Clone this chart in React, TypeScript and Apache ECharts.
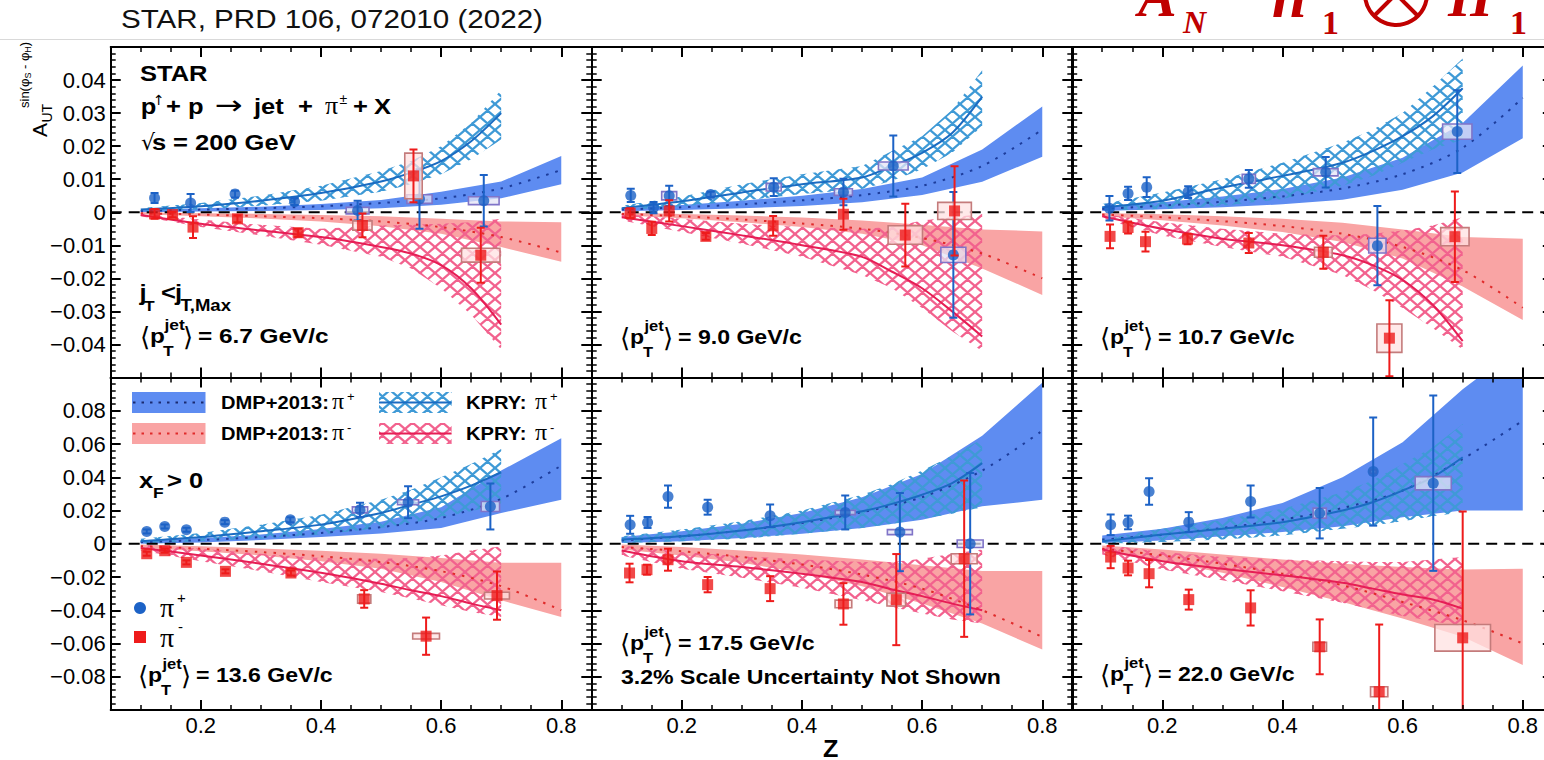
import { useEffect, useRef } from 'react';
import * as echarts from 'echarts';

const SANS = '"Liberation Sans", Arial, Helvetica, sans-serif';
const SERIF = '"Liberation Serif", "Times New Roman", serif';
const SYM = '"DejaVu Sans", sans-serif';

// Theory curves are tabulated at these z values
const Z_KPRY = [0.1, 0.2, 0.3, 0.4, 0.5, 0.55, 0.6, 0.65, 0.7];
const Z_DMP = [0.1, 0.2, 0.3, 0.4, 0.5, 0.6, 0.7, 0.8];
const Z_MAJOR = [0.2, 0.4, 0.6, 0.8];

// Measured points: [z, A_UT, stat. error, sys. half-width in z, sys. error]
const piPlus67 = [
  [0.123, 0.0043, 0.0015, 0, 0], [0.183, 0.0028, 0.0027, 0, 0], [0.257, 0.0055, 0.001, 0, 0],
  [0.356, 0.0032, 0.001, 0, 0], [0.461, 0.0005, 0.003, 0.019, 0.001], [0.564, 0.004, 0.009, 0.021, 0.0013],
  [0.671, 0.0035, 0.0078, 0.0255, 0.0012],
];
const piMinus67 = [
  [0.123, -0.0005, 0.0015, 0, 0], [0.153, -0.0007, 0.0008, 0, 0], [0.187, -0.0045, 0.0033, 0, 0],
  [0.261, -0.002, 0.001, 0, 0], [0.362, -0.0062, 0.0012, 0, 0], [0.469, -0.004, 0.0036, 0.016, 0.0014],
  [0.554, 0.011, 0.008, 0.0145, 0.0069], [0.666, -0.013, 0.0083, 0.032, 0.0021],
];
const piPlus90 = [
  [0.115, 0.0051, 0.002, 0, 0], [0.153, 0.0014, 0.0017, 0, 0], [0.179, 0.005, 0.003, 0.0125, 0.00125],
  [0.248, 0.0054, 0.0008, 0, 0], [0.353, 0.0076, 0.0027, 0.0125, 0.00115], [0.469, 0.0061, 0.004, 0.015, 0.001],
  [0.552, 0.014, 0.0092, 0.0247, 0.0012], [0.652, -0.0129, 0.019, 0.0208, 0.0023],
];
const piMinus90 = [
  [0.114, -0.0003, 0.0015, 0, 0], [0.15, -0.0049, 0.002, 0, 0], [0.179, 0.0004, 0.0032, 0, 0],
  [0.24, -0.0073, 0.001, 0, 0], [0.352, -0.0041, 0.003, 0, 0], [0.469, -0.0006, 0.0047, 0, 0],
  [0.572, -0.0069, 0.0095, 0.0286, 0.0028], [0.654, 0.0004, 0.0135, 0.028, 0.0026],
];
const piPlus107 = [
  [0.112, 0.0012, 0.0037, 0, 0], [0.143, 0.0057, 0.002, 0, 0], [0.174, 0.0076, 0.003, 0, 0],
  [0.243, 0.0061, 0.0018, 0, 0], [0.344, 0.0101, 0.0027, 0.011, 0.00135], [0.472, 0.0121, 0.0046, 0.0205, 0.0011],
  [0.558, -0.0101, 0.012, 0.0144, 0.00225], [0.691, 0.0244, 0.0125, 0.0244, 0.0023],
];
const piMinus107 = [
  [0.113, -0.0073, 0.0036, 0, 0], [0.143, -0.0046, 0.0018, 0, 0], [0.172, -0.0089, 0.003, 0, 0],
  [0.242, -0.0081, 0.0016, 0, 0], [0.344, -0.0093, 0.003, 0, 0], [0.468, -0.0121, 0.005, 0.0147, 0.0015],
  [0.578, -0.0381, 0.0115, 0.0208, 0.0043], [0.687, -0.0074, 0.0137, 0.0236, 0.00275],
];
const piPlus136 = [
  [0.11, 0.0074, 0.0012, 0, 0], [0.14, 0.0104, 0.0012, 0, 0], [0.176, 0.0084, 0.0012, 0, 0],
  [0.24, 0.013, 0.0012, 0, 0], [0.349, 0.0144, 0.0015, 0, 0], [0.465, 0.0204, 0.0042, 0.0127, 0.0018],
  [0.545, 0.025, 0.0096, 0.0175, 0.0015], [0.682, 0.0224, 0.0138, 0.0153, 0.003],
];
const piMinus136 = [
  [0.11, -0.006, 0.0012, 0, 0], [0.14, -0.0042, 0.0012, 0, 0], [0.176, -0.0112, 0.0012, 0, 0],
  [0.241, -0.0166, 0.0012, 0, 0], [0.35, -0.0176, 0.0015, 0, 0], [0.472, -0.0332, 0.0053, 0.011, 0.0025],
  [0.575, -0.0556, 0.0112, 0.0223, 0.0017], [0.693, -0.0312, 0.0145, 0.0207, 0.002],
];
const piPlus175 = [
  [0.114, 0.0114, 0.0054, 0, 0], [0.143, 0.0128, 0.0033, 0, 0], [0.177, 0.0284, 0.0067, 0, 0],
  [0.243, 0.022, 0.0045, 0, 0], [0.347, 0.0168, 0.0068, 0, 0], [0.472, 0.0188, 0.0102, 0.0166, 0.0013],
  [0.563, 0.007, 0.0235, 0.0208, 0.0015], [0.68, 0.0, 0.0425, 0.0216, 0.0023],
];
const piMinus175 = [
  [0.113, -0.0176, 0.0056, 0, 0], [0.142, -0.0156, 0.003, 0, 0], [0.177, -0.0096, 0.0066, 0, 0],
  [0.243, -0.0246, 0.0046, 0, 0], [0.347, -0.027, 0.0075, 0, 0], [0.469, -0.0362, 0.0125, 0.0139, 0.0023],
  [0.557, -0.0336, 0.0274, 0.0155, 0.0038], [0.67, -0.009, 0.047, 0.0216, 0.003],
];
const piPlus220 = [
  [0.114, 0.0114, 0.0062, 0, 0], [0.143, 0.0128, 0.0041, 0, 0], [0.178, 0.0314, 0.008, 0, 0],
  [0.244, 0.013, 0.006, 0, 0], [0.347, 0.0254, 0.0096, 0, 0], [0.462, 0.0184, 0.0152, 0.011, 0.003],
  [0.551, 0.0434, 0.0325, 0.005, 0.001], [0.651, 0.0364, 0.0527, 0.03, 0.004],
];
const piMinus220 = [
  [0.114, -0.008, 0.0067, 0, 0], [0.143, -0.0146, 0.0044, 0, 0], [0.178, -0.018, 0.0082, 0, 0],
  [0.244, -0.0336, 0.006, 0, 0], [0.347, -0.0386, 0.0106, 0, 0], [0.462, -0.062, 0.0165, 0.0114, 0.0027],
  [0.561, -0.089, 0.0404, 0.0144, 0.003], [0.7, -0.0566, 0.076, 0.0463, 0.008],
];

// Theory: [central, lower, upper] at Z_DMP / Z_KPRY
const dmpPlus67 = [[0.0004, 0, 0.0007], [0.0008, 0.0002, 0.0012], [0.0012, 0.0004, 0.0017], [0.0018, 0.0007, 0.0025], [0.0028, 0.0012, 0.0037], [0.0042, 0.0023, 0.0062], [0.0072, 0.0042, 0.0093], [0.0128, 0.0085, 0.017]];
const dmpMinus67 = [[-0.0003, -0.0006, 0], [-0.0007, -0.0012, -0.0003], [-0.0012, -0.0019, -0.0005], [-0.0018, -0.0028, -0.0008], [-0.0028, -0.0042, -0.0012], [-0.0045, -0.0065, -0.002], [-0.0075, -0.0105, -0.0028], [-0.0122, -0.015, -0.003]];
const kpryPlus67 = [[0.0008, 0.0003, 0.0013], [0.0018, 0.0008, 0.0028], [0.0035, 0.002, 0.005], [0.0058, 0.0035, 0.008], [0.0093, 0.0062, 0.0125], [0.012, 0.0085, 0.0155], [0.0155, 0.0115, 0.02], [0.0215, 0.016, 0.027], [0.03, 0.022, 0.037]];
const kpryMinus67 = [[-0.0008, -0.0012, -0.0004], [-0.0035, -0.0045, -0.0022], [-0.0055, -0.007, -0.0038], [-0.0075, -0.0098, -0.005], [-0.0105, -0.0135, -0.004], [-0.0125, -0.017, -0.0038], [-0.016, -0.023, -0.0035], [-0.023, -0.031, -0.003], [-0.034, -0.0415, -0.002]];

const dmpPlus90 = [[0.0008, 0.0003, 0.0013], [0.0015, 0.0007, 0.0022], [0.0024, 0.0012, 0.0035], [0.0036, 0.0019, 0.005], [0.0052, 0.003, 0.007], [0.008, 0.0052, 0.0105], [0.014, 0.0092, 0.019], [0.025, 0.0168, 0.032]];
const dmpMinus90 = [[-0.0005, -0.0009, -0.0001], [-0.0012, -0.0018, -0.0005], [-0.0022, -0.003, -0.001], [-0.0034, -0.0045, -0.0016], [-0.005, -0.0065, -0.0025], [-0.0078, -0.01, -0.0038], [-0.0125, -0.017, -0.0052], [-0.02, -0.025, -0.0058]];
const kpryPlus90 = [[0.0012, 0.0005, 0.002], [0.0033, 0.0018, 0.0048], [0.006, 0.0035, 0.0085], [0.0085, 0.0055, 0.0115], [0.0105, 0.007, 0.014], [0.014, 0.0095, 0.0185], [0.018, 0.013, 0.023], [0.024, 0.018, 0.031], [0.035, 0.026, 0.043]];
const kpryMinus90 = [[-0.0015, -0.0025, -0.0005], [-0.0042, -0.006, -0.002], [-0.007, -0.0095, -0.0035], [-0.01, -0.0135, -0.0045], [-0.0135, -0.019, -0.005], [-0.018, -0.023, -0.0045], [-0.023, -0.029, -0.0025], [-0.03, -0.036, -0.0015], [-0.0376, -0.042, -0.0005]];

const dmpPlus107 = [[0.001, 0.0004, 0.0016], [0.002, 0.0009, 0.003], [0.0032, 0.0015, 0.0048], [0.0048, 0.0024, 0.007], [0.0072, 0.0038, 0.0105], [0.0115, 0.0068, 0.0165], [0.0195, 0.012, 0.027], [0.0346, 0.0224, 0.0444]];
const dmpMinus107 = [[-0.0007, -0.0012, -0.0002], [-0.0015, -0.0024, -0.0006], [-0.0027, -0.004, -0.0012], [-0.0042, -0.006, -0.002], [-0.0065, -0.009, -0.0032], [-0.0105, -0.014, -0.0052], [-0.0175, -0.0225, -0.0075], [-0.0289, -0.0326, -0.008]];
const kpryPlus107 = [[0.0015, 0.0005, 0.0025], [0.0035, 0.001, 0.006], [0.0075, 0.002, 0.01], [0.011, 0.004, 0.015], [0.015, 0.008, 0.021], [0.0185, 0.011, 0.025], [0.023, 0.015, 0.03], [0.029, 0.019, 0.038], [0.0375, 0.022, 0.0465]];
const kpryMinus107 = [[-0.0012, -0.002, -0.0005], [-0.005, -0.007, -0.003], [-0.008, -0.0105, -0.005], [-0.01, -0.0135, -0.0065], [-0.013, -0.019, -0.007], [-0.016, -0.0235, -0.0065], [-0.0205, -0.029, -0.0055], [-0.028, -0.035, -0.004], [-0.039, -0.0415, -0.0015]];

const dmpPlus136 = [[0.001, 0, 0.002], [0.0022, 0.0008, 0.0035], [0.004, 0.0022, 0.0055], [0.0065, 0.004, 0.0088], [0.01, 0.0062, 0.0132], [0.0155, 0.0095, 0.022], [0.027, 0.0185, 0.044], [0.047, 0.0264, 0.0634]];
const dmpMinus136 = [[-0.0015, -0.0025, -0.0005], [-0.003, -0.0045, -0.0015], [-0.005, -0.007, -0.0028], [-0.0075, -0.0105, -0.0042], [-0.011, -0.015, -0.006], [-0.0165, -0.023, -0.0085], [-0.0255, -0.034, -0.0115], [-0.04, -0.044, -0.0115]];
const kpryPlus136 = [[0.0015, 0, 0.003], [0.004, 0.0015, 0.0065], [0.0075, 0.003, 0.0115], [0.0115, 0.0055, 0.0175], [0.0185, 0.0095, 0.0265], [0.0235, 0.0125, 0.0325], [0.0285, 0.016, 0.04], [0.035, 0.0195, 0.048], [0.043, 0.024, 0.057]];
const kpryMinus136 = [[-0.0025, -0.004, -0.0005], [-0.007, -0.0105, -0.003], [-0.012, -0.0165, -0.006], [-0.0175, -0.023, -0.0085], [-0.024, -0.029, -0.009], [-0.028, -0.033, -0.0085], [-0.0315, -0.037, -0.007], [-0.036, -0.041, -0.004], [-0.04, -0.044, -0.0015]];

const dmpPlus175 = [[0.002, 0.0005, 0.004], [0.0045, 0.0015, 0.0075], [0.008, 0.0035, 0.012], [0.0125, 0.006, 0.0185], [0.019, 0.0095, 0.028], [0.028, 0.0145, 0.042], [0.044, 0.0225, 0.065], [0.068, 0.0264, 0.0968]];
const dmpMinus175 = [[-0.002, -0.0035, -0.0005], [-0.0045, -0.007, -0.002], [-0.008, -0.0115, -0.004], [-0.0125, -0.0175, -0.0065], [-0.0185, -0.0255, -0.0095], [-0.027, -0.036, -0.013], [-0.04, -0.048, -0.0164], [-0.056, -0.0636, -0.0164]];
const kpryPlus175 = [[0.0025, 0.0005, 0.0045], [0.0045, 0.0015, 0.0085], [0.008, 0.003, 0.0135], [0.013, 0.006, 0.02], [0.0195, 0.0095, 0.0295], [0.024, 0.012, 0.036], [0.0295, 0.015, 0.044], [0.0365, 0.018, 0.053], [0.0485, 0.022, 0.063]];
const kpryMinus175 = [[-0.004, -0.007, -0.001], [-0.0105, -0.015, -0.005], [-0.014, -0.0205, -0.0075], [-0.018, -0.0265, -0.0095], [-0.023, -0.034, -0.011], [-0.0275, -0.038, -0.011], [-0.0315, -0.042, -0.009], [-0.036, -0.0455, -0.006], [-0.04, -0.048, -0.0035]];

const dmpPlus220 = [[0.0025, 0.0005, 0.005], [0.0055, 0.002, 0.009], [0.0095, 0.0045, 0.0155], [0.0145, 0.007, 0.0245], [0.0215, 0.0105, 0.04], [0.032, 0.016, 0.061], [0.051, 0.02, 0.093], [0.074, 0.02, 0.12]];
const dmpMinus220 = [[-0.003, -0.005, -0.001], [-0.007, -0.0105, -0.0035], [-0.012, -0.0175, -0.0065], [-0.018, -0.026, -0.0095], [-0.025, -0.035, -0.012], [-0.035, -0.045, -0.014], [-0.046, -0.056, -0.0155], [-0.06, -0.073, -0.015]];
const kpryPlus220 = [[0.0015, 0, 0.003], [0.0055, 0.001, 0.009], [0.009, 0.0025, 0.0145], [0.013, 0.005, 0.021], [0.02, 0.009, 0.031], [0.025, 0.011, 0.038], [0.032, 0.0135, 0.048], [0.04, 0.0165, 0.058], [0.052, 0.019, 0.072]];
const kpryMinus220 = [[-0.0035, -0.0065, -0.0005], [-0.0105, -0.0155, -0.005], [-0.015, -0.022, -0.008], [-0.019, -0.0285, -0.0095], [-0.0235, -0.0355, -0.0105], [-0.027, -0.0395, -0.011], [-0.0305, -0.0435, -0.011], [-0.0335, -0.0465, -0.0095], [-0.039, -0.05, -0.008]];

const PT_JET = ['6.7', '9.0', '10.7', '13.6', '17.5', '22.0'];

const PANELS = [
  { row: 0, col: 0, plus: piPlus67, minus: piMinus67, dmpP: dmpPlus67, dmpM: dmpMinus67, kP: kpryPlus67, kM: kpryMinus67 },
  { row: 0, col: 1, plus: piPlus90, minus: piMinus90, dmpP: dmpPlus90, dmpM: dmpMinus90, kP: kpryPlus90, kM: kpryMinus90 },
  { row: 0, col: 2, plus: piPlus107, minus: piMinus107, dmpP: dmpPlus107, dmpM: dmpMinus107, kP: kpryPlus107, kM: kpryMinus107 },
  { row: 1, col: 0, plus: piPlus136, minus: piMinus136, dmpP: dmpPlus136, dmpM: dmpMinus136, kP: kpryPlus136, kM: kpryMinus136 },
  { row: 1, col: 1, plus: piPlus175, minus: piMinus175, dmpP: dmpPlus175, dmpM: dmpMinus175, kP: kpryPlus175, kM: kpryMinus175 },
  { row: 1, col: 2, plus: piPlus220, minus: piMinus220, dmpP: dmpPlus220, dmpM: dmpMinus220, kP: kpryPlus220, kM: kpryMinus220 },
];

// Layout
const COL_X = [110.7, 591.7, 1072.2];
const ROWS = [
  { top: 47, height: 330.5, lim: 0.05, step: 0.01 },
  { top: 377.5, height: 332.5, lim: 0.1, step: 0.02 },
];
const PANEL_W = 480.6;

const COL = {
  dmpPlusFill: '#5e8cf1',
  dmpPlusLine: '#1d3d9c',
  dmpMinusFill: '#f9a4a4',
  dmpMinusLine: '#e02a2a',
  kpryPlusHatch: '#3f9ad6',
  kpryPlusLine: '#1b6cc2',
  kpryMinusHatch: '#f2628e',
  kpryMinusLine: '#e61e55',
  piPlus: '#1c62c6',
  piMinus: '#ee1b1b',
  sysPlusStroke: '#8074c8',
  sysPlusFill: 'rgba(228,228,246,0.75)',
  sysMinusStroke: '#c47b7b',
  sysMinusFill: 'rgba(255,226,226,0.75)',
  title: '#c00000',
};

let ctx2d: CanvasRenderingContext2D | null = null;
function measure(t: string, size: number, weight: string, fam: string, italic?: boolean) {
  if (!ctx2d) ctx2d = document.createElement('canvas').getContext('2d');
  ctx2d!.font = `${italic ? 'italic ' : ''}${weight} ${size}px ${fam}`;
  return ctx2d!.measureText(t).width;
}

type TOpt = { w?: string; fam?: string; color?: string; italic?: boolean; sx?: number };
function txt(x: number, base: number, text: string, size: number, o: TOpt = {}) {
  return {
    type: 'text',
    x,
    y: base - 0.345 * size,
    scaleX: o.sx ?? 1,
    silent: true,
    z: 100,
    style: {
      text,
      fontSize: size,
      fontWeight: o.w ?? 'bold',
      fontStyle: o.italic ? 'italic' : 'normal',
      fontFamily: o.fam ?? SANS,
      fill: o.color ?? '#000',
      align: 'left',
      verticalAlign: 'middle',
    },
  };
}

type Part = TOpt & { t: string; size: number; dy?: number };
function run(x0: number, base: number, parts: Part[]) {
  const out: any[] = [];
  let x = x0;
  for (const p of parts) {
    out.push(txt(x, base + (p.dy ?? 0), p.t, p.size, p));
    x += measure(p.t, p.size, p.w ?? 'bold', p.fam ?? SANS, p.italic) * (p.sx ?? 1);
  }
  return out;
}

// diagonal cross-hatch tile
function hatch(color: string) {
  const w = 15;
  const h = 13;
  const cv = document.createElement('canvas');
  cv.width = w;
  cv.height = h;
  const g = cv.getContext('2d')!;
  g.strokeStyle = color;
  g.lineWidth = 2.3;
  g.beginPath();
  for (const k of [-w, 0, w]) {
    g.moveTo(k, 0);
    g.lineTo(k + w, h);
    g.moveTo(k + w, 0);
    g.lineTo(k, h);
  }
  g.stroke();
  return { image: cv.toDataURL(), repeat: 'repeat', imageWidth: w, imageHeight: h };
}

// <p_T^jet> = value GeV/c
function ptLabel(x0: number, base: number, value: string, sx: number) {
  return [
    txt(x0, base + 3, '\u27E8', 26, { w: 'normal', fam: SYM }),
    txt(x0 + 10, base, 'p', 21, { sx }),
    txt(x0 + 23, base + 13, 'T', 15, { sx }),
    txt(x0 + 24.5, base - 13, 'jet', 15, { sx }),
    txt(x0 + 43, base + 3, '\u27E9', 26, { w: 'normal', fam: SYM }),
    txt(x0 + 58, base, `= ${value} GeV/c`, 21, { sx }),
  ];
}

function buildOption() {
  const grid: any[] = [];
  const xAxis: any[] = [];
  const yAxis: any[] = [];
  const series: any[] = [];

  PANELS.forEach((p, i) => {
    const r = ROWS[p.row];
    grid.push({ left: COL_X[p.col], top: r.top, width: PANEL_W, height: r.height, outerBoundsMode: 'none', containLabel: false });

    const xBase = { gridIndex: i, type: 'value', min: 0.05, max: 0.85, interval: 0.05, splitLine: { show: false }, z: 10 };
    const frame = { show: true, onZero: false, lineStyle: { color: '#000', width: 2 } };
    const minorX = { show: true, inside: true, length: 5, lineStyle: { color: '#000', width: 1.5 } };
    const majorX = { show: true, inside: true, length: 10, customValues: Z_MAJOR, lineStyle: { color: '#000', width: 2 } };
    xAxis.push(
      { ...xBase, position: 'bottom', axisLine: frame, axisTick: minorX, axisLabel: { show: false } },
      {
        ...xBase, position: 'bottom', axisLine: { show: false, onZero: false }, axisTick: majorX,
        axisLabel: {
          show: p.row === 1, customValues: Z_MAJOR, margin: 4, fontSize: 22, fontFamily: SANS, color: '#000',
          formatter: (v: number) => v.toFixed(1),
        },
      },
      { ...xBase, position: 'top', axisLine: frame, axisTick: minorX, axisLabel: { show: false } },
      { ...xBase, position: 'top', axisLine: { show: false, onZero: false }, axisTick: majorX, axisLabel: { show: false } },
    );

    const yBase = {
      gridIndex: i, type: 'value', min: -r.lim, max: r.lim, interval: r.step,
      axisLine: frame,
      axisTick: { show: true, inside: true, length: 10, lineStyle: { color: '#000', width: 2 } },
      minorTick: { show: true, splitNumber: 5, length: 5, lineStyle: { color: '#000', width: 1.5 } },
      splitLine: { show: false }, minorSplitLine: { show: false }, z: 10,
    };
    yAxis.push(
      {
        ...yBase, position: 'left',
        axisLabel: {
          show: p.col === 0, margin: 5, fontSize: 22, fontFamily: SANS, color: '#000',
          formatter: (v: number) => {
            if (Math.abs(Math.abs(v) - r.lim) < 1e-9) return '';
            if (Math.abs(v) < 1e-9) return '0';
            return (v < 0 ? '\u2212' : '') + Math.abs(v).toFixed(2);
          },
        },
      },
      { ...yBase, position: 'right', axisLabel: { show: false } },
    );

    const ax = { xAxisIndex: 4 * i, yAxisIndex: 2 * i, silent: true };

    // uncertainty band: one polygon from the upper edge and the reversed lower edge
    const band = (zs: number[], rows: number[][], fill: any, z: number) => ({
      ...ax, type: 'custom', clip: true, z, encode: { x: 0, y: [1, 2] },
      data: zs.map((x, k) => [x, rows[k][1], rows[k][2]]),
      renderItem: (params: any, api: any) => {
        if (params.dataIndex !== 0) return null;
        const up = zs.map((x, k) => api.coord([x, rows[k][2]]));
        const lo = zs.map((x, k) => api.coord([x, rows[k][1]])).reverse();
        return { type: 'polygon', shape: { points: up.concat(lo) }, style: { fill } };
      },
    });
    const centre = (zs: number[], rows: number[][], color: string, type: any, z: number) => ({
      ...ax, type: 'line', data: zs.map((x, k) => [x, rows[k][0]]), symbol: 'none', showSymbol: false,
      smooth: 0.3, lineStyle: { color, width: 2, type }, z,
    });

    series.push(
      band(Z_DMP, p.dmpP, COL.dmpPlusFill, 2),
      band(Z_DMP, p.dmpM, COL.dmpMinusFill, 2),
      band(Z_KPRY, p.kP, hatch(COL.kpryPlusHatch), 3),
      band(Z_KPRY, p.kM, hatch(COL.kpryMinusHatch), 3),
      centre(Z_DMP, p.dmpP, COL.dmpPlusLine, [2.5, 7], 4),
      centre(Z_DMP, p.dmpM, COL.dmpMinusLine, [2.5, 7], 4),
      centre(Z_KPRY, p.kP, COL.kpryPlusLine, 'solid', 4),
      centre(Z_KPRY, p.kM, COL.kpryMinusLine, 'solid', 4),
      {
        ...ax, type: 'line', data: [[0.05, 0], [0.85, 0]], symbol: 'none', showSymbol: false,
        lineStyle: { color: '#000', width: 2, type: [11, 7] }, z: 5,
      },
    );

    const points = (pts: number[][], color: string, stroke: string, fill: string, symbol: string, z: number) => [
      {
        ...ax, type: 'custom', clip: true, z, encode: { x: 0, y: 1 },
        data: pts.filter((q) => q[3] > 0).map((q) => [q[0], q[1], q[3], q[4]]),
        renderItem: (_: any, api: any) => {
          const x = api.value(0), y = api.value(1), sx = api.value(2), sy = api.value(3);
          const a = api.coord([x - sx, y + sy]);
          const b = api.coord([x + sx, y - sy]);
          return {
            type: 'rect',
            shape: { x: a[0], y: a[1], width: b[0] - a[0], height: b[1] - a[1] },
            style: { fill, stroke, lineWidth: 1.6 },
          };
        },
      },
      {
        ...ax, type: 'custom', clip: true, z, encode: { x: 0, y: 1 },
        data: pts.map((q) => [q[0], q[1], q[2]]),
        renderItem: (_: any, api: any) => {
          const x = api.value(0), y = api.value(1), e = api.value(2);
          const t = api.coord([x, y + e]);
          const b = api.coord([x, y - e]);
          const st = { stroke: color, lineWidth: 2 };
          return {
            type: 'group',
            children: [
              { type: 'line', shape: { x1: t[0], y1: t[1], x2: b[0], y2: b[1] }, style: st },
              { type: 'line', shape: { x1: t[0] - 4, y1: t[1], x2: t[0] + 4, y2: t[1] }, style: st },
              { type: 'line', shape: { x1: b[0] - 4, y1: b[1], x2: b[0] + 4, y2: b[1] }, style: st },
            ],
          };
        },
      },
      {
        ...ax, type: 'scatter', z, symbol, symbolSize: 11, itemStyle: { color },
        data: pts.map((q) => [q[0], q[1]]),
      },
    ];
    series.push(
      ...points(p.plus, COL.piPlus, COL.sysPlusStroke, COL.sysPlusFill, 'circle', 6),
      ...points(p.minus, COL.piMinus, COL.sysMinusStroke, COL.sysMinusFill, 'rect', 7),
    );
  });

  // ---- texts and decorations ----
  const S1 = 1.16; // top-left panel text stretch
  const S2 = 1.1;
  const els: any[] = [];

  els.push({ type: 'line', shape: { x1: 0, y1: 39.5, x2: 1544, y2: 39.5 }, style: { stroke: '#d9d9d9', lineWidth: 1 }, z: 100, silent: true });
  els.push(txt(121, 28, 'STAR, PRD 106, 072010 (2022)', 25.5, { w: 'normal', sx: 1.16, color: '#111' }));

  // A_N h_1 (x) H_1, its upper half runs off the top edge
  els.push(txt(1138, 17, 'A', 58, { fam: SERIF, italic: true, color: COL.title }));
  els.push(txt(1183, 33, 'N', 32, { fam: SERIF, italic: true, color: COL.title }));
  els.push(txt(1272, 17, 'h', 62, { fam: SERIF, italic: true, color: COL.title }));
  els.push(txt(1322, 34, '1', 34, { fam: SERIF, color: COL.title }));
  els.push({ type: 'circle', shape: { cx: 1396, cy: -6, r: 31 }, style: { fill: 'none', stroke: COL.title, lineWidth: 4 }, z: 100, silent: true });
  els.push({ type: 'line', shape: { x1: 1374, y1: 16, x2: 1418, y2: -28 }, style: { stroke: COL.title, lineWidth: 4 }, z: 100, silent: true });
  els.push({ type: 'line', shape: { x1: 1418, y1: 16, x2: 1374, y2: -28 }, style: { stroke: COL.title, lineWidth: 4 }, z: 100, silent: true });
  els.push(txt(1448, 17, 'H', 58, { fam: SERIF, italic: true, color: COL.title }));
  els.push(txt(1510, 34, '1', 34, { fam: SERIF, color: COL.title }));

  // y-axis title, reading upwards
  els.push({
    type: 'group', x: 46.5, y: 137, rotation: Math.PI / 2, silent: true, z: 100,
    children: [
      txt(0, 0, 'A', 21, { w: 'normal' }),
      txt(14.5, 5, 'UT', 14, { w: 'normal' }),
      ...run(29, -18, [
        { t: 'sin(\u03C6', size: 13, w: 'normal' },
        { t: 'S', size: 9, w: 'normal', dy: 3 },
        { t: ' - \u03C6', size: 13, w: 'normal' },
        { t: 'H', size: 9, w: 'normal', dy: 3 },
        { t: ')', size: 13, w: 'normal' },
      ]),
    ],
  });

  // top-left panel annotations
  els.push(txt(140, 81, 'STAR', 22, { sx: S1 }));
  els.push(txt(140.8, 114, 'p', 22, { sx: S1 }));
  els.push(txt(153, 105, '\u2191', 14, { w: 'normal', fam: SYM }));
  els.push(txt(166, 114, '+', 22, { sx: S1 }));
  els.push(txt(188, 114, 'p', 22, { sx: S1 }));
  els.push(txt(215, 114, '\u2192', 26, { w: 'normal', fam: SYM, sx: 1.28 }));
  els.push(txt(254, 114, 'jet', 22, { sx: S1 }));
  els.push(txt(298, 114, '+', 22, { sx: S1 }));
  els.push(txt(325, 114, '\u03C0', 26, { w: 'normal', fam: SERIF }));
  els.push(txt(339.5, 104, '\u00B1', 14, { w: 'normal' }));
  els.push(txt(353, 114, '+', 22, { sx: S1 }));
  els.push(txt(374, 114, 'X', 22, { sx: S1 }));
  els.push(txt(141, 150, '\u221A', 22, { w: 'normal', fam: SYM }));
  els.push(txt(152, 150, 's', 22, { sx: S1 }));
  els.push(txt(173, 150, '= 200 GeV', 22, { sx: S1 }));
  els.push(txt(139.5, 300, 'j', 22, { sx: S1 }));
  els.push(txt(144, 311, 'T', 15, { sx: S1 }));
  els.push(txt(161, 300, '<', 22, { sx: S1 }));
  els.push(txt(175, 300, 'j', 22, { sx: S1 }));
  els.push(txt(180.5, 311, 'T,Max', 16, { sx: S1 }));
  els.push(...ptLabel(140, 343, PT_JET[0], S1));
  els.push(...ptLabel(620, 344, PT_JET[1], S2));
  els.push(...ptLabel(1100, 344, PT_JET[2], S2));

  // bottom-left: legend, kinematic cut, markers
  const legendRow = (y: number, fill: string, dots: string, hcol: string, line: string, sign: string) => [
    { type: 'rect', shape: { x: 132, y, width: 73.5, height: 21 }, style: { fill }, z: 100, silent: true },
    { type: 'line', shape: { x1: 133, y1: y + 10.5, x2: 205, y2: y + 10.5 }, style: { stroke: dots, lineWidth: 2, lineDash: [2.5, 6] }, z: 101, silent: true },
    txt(221, y + 17, 'DMP+2013:', 19, { sx: 1.06 }),
    txt(332, y + 17, '\u03C0', 24, { w: 'normal', fam: SERIF }),
    txt(347, y + 9, sign, 13, { w: 'normal' }),
    { type: 'rect', shape: { x: 379, y, width: 72.6, height: 21 }, style: { fill: hatch(hcol) }, z: 100, silent: true },
    { type: 'line', shape: { x1: 379, y1: y + 10.5, x2: 451.6, y2: y + 10.5 }, style: { stroke: line, lineWidth: 2 }, z: 101, silent: true },
    txt(466, y + 17, 'KPRY:', 19, { sx: 1.06 }),
    txt(535, y + 17, '\u03C0', 24, { w: 'normal', fam: SERIF }),
    txt(550, y + 9, sign, 13, { w: 'normal' }),
  ];
  els.push(...legendRow(392, COL.dmpPlusFill, '#1a2a70', COL.kpryPlusHatch, COL.kpryPlusLine, '+'));
  els.push(...legendRow(423, COL.dmpMinusFill, COL.dmpMinusLine, COL.kpryMinusHatch, COL.kpryMinusLine, '-'));

  els.push(txt(139, 488, 'x', 22, { sx: S1 }));
  els.push(txt(153, 498, 'F', 15, { sx: S1 }));
  els.push(txt(167, 488, '> 0', 22, { sx: S1 }));

  els.push({ type: 'circle', shape: { cx: 140, cy: 608, r: 6 }, style: { fill: COL.piPlus }, z: 100, silent: true });
  els.push(txt(160, 617, '\u03C0', 28, { w: 'normal', fam: SERIF }));
  els.push(txt(177, 603, '+', 15, { w: 'normal' }));
  els.push({ type: 'rect', shape: { x: 134, y: 631, width: 12, height: 12 }, style: { fill: COL.piMinus }, z: 100, silent: true });
  els.push(txt(160, 647, '\u03C0', 28, { w: 'normal', fam: SERIF }));
  els.push(txt(178, 632, '-', 15, { w: 'normal' }));

  els.push(...ptLabel(138, 682, PT_JET[3], S2));
  els.push(...ptLabel(620, 650, PT_JET[4], S2));
  els.push(txt(621, 684, '3.2% Scale Uncertainty Not Shown', 21, { sx: S2 }));
  els.push(...ptLabel(1100, 681, PT_JET[5], S2));

  els.push(txt(823, 757, 'Z', 24, { sx: 1.05 }));

  return {
    animation: false,
    backgroundColor: '#fff',
    grid,
    xAxis,
    yAxis,
    series,
    graphic: { elements: els },
  };
}

export default function App() {
  const ref = useRef<HTMLDivElement>(null);
  useEffect(() => {
    document.body.style.margin = '0';
    const chart = echarts.init(ref.current!, undefined, { renderer: 'svg' });
    chart.setOption(buildOption() as any);
    return () => chart.dispose();
  }, []);
  return <div ref={ref} style={{ width: 1544, height: 760, background: '#fff' }} />;
}
